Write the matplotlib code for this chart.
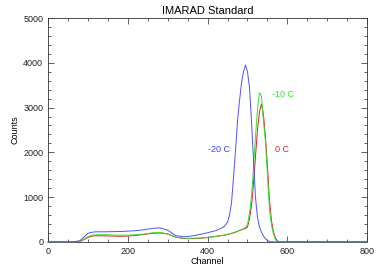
import numpy as np
import matplotlib
matplotlib.use("Agg")
import matplotlib.pyplot as plt
from matplotlib.ticker import MultipleLocator

plt.rcParams['font.family'] = ['Liberation Sans', 'DejaVu Sans']

# Channel grid
channel = [0, 50, 60, 70, 80, 90, 100, 110, 120, 140, 160, 180, 200, 220, 240,
           260, 280, 300, 320, 340, 360, 380, 400, 420, 440, 450, 455, 460, 465,
           470, 475, 480, 485, 490, 495, 500, 505, 510, 515, 520, 525, 530, 535,
           540, 545, 550, 555, 560, 565, 570, 575, 580, 600, 700, 800]

# -20 C spectrum
counts_m20 = [0, 0, 0, 10, 30, 110, 190, 215, 225, 225, 228, 232, 240, 250, 270,
              300, 315, 260, 140, 115, 130, 165, 205, 250, 330, 440, 600, 880, 1450,
              2050, 2700, 3150, 3550, 3800, 3950, 3800, 3450, 2700, 1850, 1000, 550, 330, 220,
              130, 70, 30, 10, 0, 0, 0, 0, 0, 0, 0, 0]

# -10 C spectrum
counts_m10 = [0, 0, 0, 5, 10, 60, 115, 150, 160, 160, 155, 150, 150, 160, 175,
              200, 210, 180, 110, 80, 80, 85, 100, 125, 150, 170, 180, 195, 205,
              220, 240, 260, 275, 290, 330, 380, 650, 1000, 1650, 2350, 2950, 3330, 3250,
              2700, 2250, 1500, 750, 380, 180, 50, 10, 0, 0, 0, 0]

# 0 C spectrum
counts_0 = [0, 0, 0, 5, 10, 50, 100, 130, 135, 135, 130, 125, 130, 145, 165,
            190, 200, 175, 105, 75, 75, 80, 95, 120, 145, 165, 175, 190, 200,
            215, 235, 255, 270, 285, 300, 330, 520, 800, 1300, 1900, 2500, 2900, 3080,
            2850, 2350, 1700, 950, 480, 230, 80, 25, 0, 0, 0, 0]

fig = plt.figure(figsize=(3.82, 2.73), dpi=100)
ax = fig.add_axes([0.126, 0.114, 0.835, 0.82])

ax.plot(channel, counts_0, color='#e02020', lw=0.7, clip_on=False, zorder=3)
ax.plot(channel, counts_m10, color='#30e030', lw=0.7, clip_on=False, zorder=3)
ax.plot(channel, counts_m20, color='#5050ff', lw=0.7, clip_on=False, zorder=4)

ax.text(428, 2063, '-20 C', color='#4040ff', fontsize=6.5, ha='center', va='center')
ax.text(589, 3290, '-10 C', color='#30e030', fontsize=6.5, ha='center', va='center')
ax.text(587, 2063, '0 C', color='#e02020', fontsize=6.5, ha='center', va='center')

ax.set_xlim(0, 800)
ax.set_ylim(0, 5000)
ax.xaxis.set_major_locator(MultipleLocator(200))
ax.xaxis.set_minor_locator(MultipleLocator(50))
ax.yaxis.set_major_locator(MultipleLocator(1000))
ax.yaxis.set_minor_locator(MultipleLocator(200))
ax.tick_params(which='both', direction='in', top=True, right=True,
               labelsize=6.5, width=0.5, colors='#222222')
ax.tick_params(which='major', length=4)
ax.tick_params(which='minor', length=2)
for s in ax.spines.values():
    s.set_linewidth(0.6)
    s.set_color('#333333')

ax.set_title('IMARAD Standard', fontsize=8, pad=3)
ax.set_xlabel('Channel', fontsize=6.5, labelpad=1)
ax.set_ylabel('Counts', fontsize=6.5, labelpad=3)

fig.savefig('out.png', dpi=100)
